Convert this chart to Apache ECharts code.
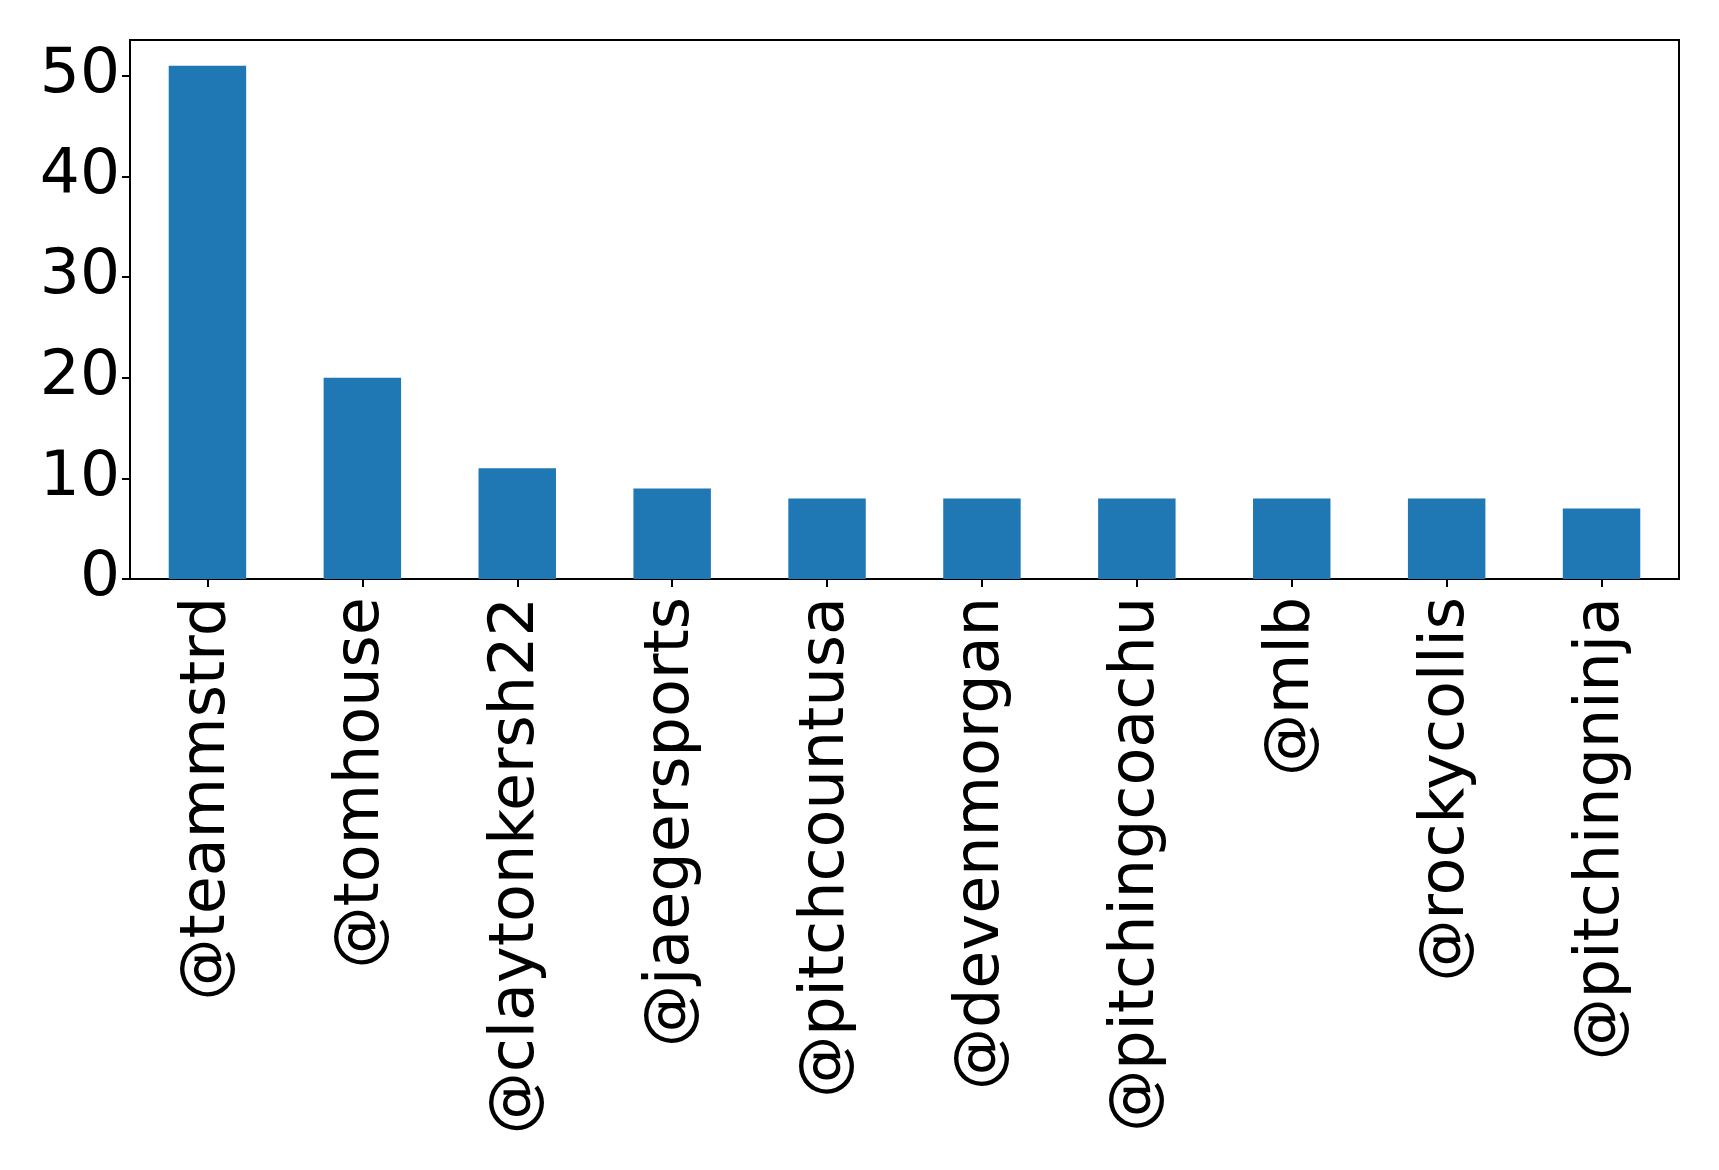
<!DOCTYPE html>
<html>
<head>
<meta charset="utf-8">
<script src="https://cdn.jsdelivr.net/npm/echarts@6/dist/echarts.min.js"></script>
<style>
html,body{margin:0;padding:0;background:#fff;}
#chart{width:1719px;height:1170px;}
</style>
</head>
<body>
<div id="chart"></div>
<script>
const categories = ['@teammstrd','@tomhouse','@claytonkersh22','@jaegersports','@pitchcountusa','@devenmorgan','@pitchingcoachu','@mlb','@rockycollis','@pitchingninja'];
const counts = [51, 20, 11, 9, 8, 8, 8, 8, 8, 7];
const yTicks = [0, 10, 20, 30, 40, 50];

const chart = echarts.init(document.getElementById('chart'), null, {renderer: 'canvas'});
const font = 'DejaVu Sans';
chart.setOption({
  animation: false,
  backgroundColor: '#ffffff',
  grid: {left: 130, right: 40, top: 40, bottom: 591, show: true, borderColor: '#000', borderWidth: 2, backgroundColor: 'transparent'},
  xAxis: {
    type: 'category',
    data: categories,
    axisLine: {show: true, lineStyle: {color: '#000', width: 2}},
    axisTick: {show: true, alignWithLabel: true, length: 8, lineStyle: {color: '#000', width: 2}},
    axisLabel: {rotate: 90, margin: 18, color: '#000', fontFamily: font, fontSize: 62, interval: 0},
    splitLine: {show: false}
  },
  yAxis: {
    type: 'value',
    min: 0,
    max: 53.55,
    interval: 10,
    axisLine: {show: true, lineStyle: {color: '#000', width: 2}},
    axisTick: {show: true, length: 8, lineStyle: {color: '#000', width: 2}},
    axisLabel: {
      margin: 10, color: '#000', fontFamily: font, fontSize: 63, showMaxLabel: false,
      formatter: v => yTicks.includes(v) ? String(v) : ''
    },
    splitLine: {show: false}
  },
  series: [{
    type: 'bar',
    data: counts,
    barWidth: '50%',
    itemStyle: {color: '#1f77b4'}
  }]
});
</script>
</body>
</html>
